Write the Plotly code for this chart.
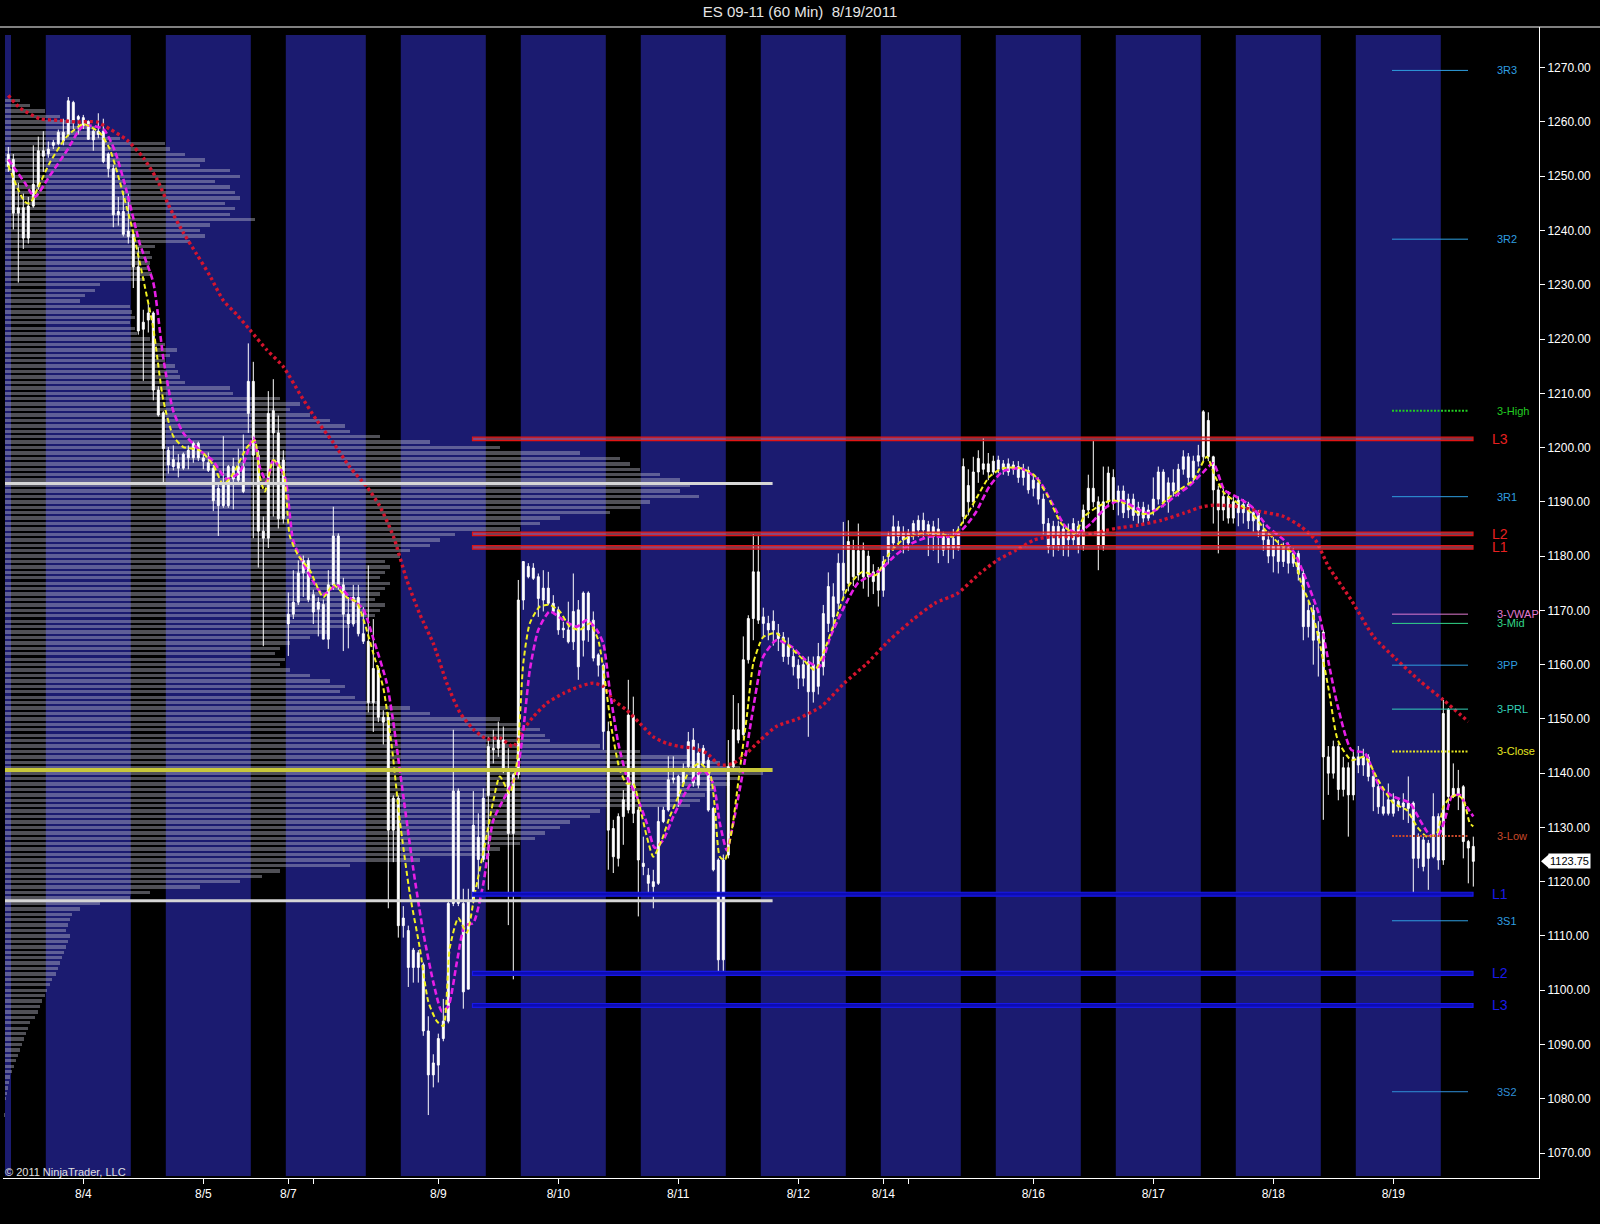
import plotly.graph_objects as go

# ---------------- DATA ----------------
# 60-minute ES 09-11 bars, indexed 0..293 (left to right)
bar_open = [
1254.0,1253.1,1243.2,1244.2,1238.6,1244.5,1248.1,1254.7,1254.1,1255.7,
1256.0,1256.5,1257.7,1263.6,1260.5,1260.8,1260.1,1256.7,1258.3,1258.3,
1254.1,1251.4,1242.9,1243.5,1239.9,1239.3,1233.3,1221.8,1223.5,1224.8,
1210.6,1206.4,1199.5,1196.5,1197.2,1196.2,1198.1,1198.1,1200.8,1198.1,
1197.2,1196.2,1189.3,1193.5,1189.3,1196.5,1194.0,1196.5,1206.3,1212.2,
1198.6,1184.6,1183.3,1206.8,1202.7,1186.9,1169.3,1169.3,1171.5,1176.9,
1179.2,1172.9,1170.2,1171.1,1164.7,1174.7,1183.7,1174.7,1169.3,1167.5,
1172.4,1165.7,1164.3,1153.0,1159.3,1150.3,1150.3,1129.5,1135.4,1111.9,
1111.0,1104.2,1106.9,1104.7,1092.5,1084.4,1086.2,1091.1,1094.3,1116.0,
1136.7,1116.0,1100.2,1116.4,1128.2,1124.1,1135.9,1144.6,1144.6,1146.1,
1140.3,1128.9,1139.7,1171.9,1178.1,1175.9,1176.2,1171.9,1174.1,1171.3,
1170.1,1166.4,1166.4,1164.2,1170.1,1164.5,1173.2,1168.2,1161.8,1159.9,
1147.7,1129.8,1124.3,1132.0,1133.2,1150.7,1133.2,1123.4,1121.2,1120.0,
1119.7,1131.1,1133.2,1138.8,1139.4,1138.2,1141.2,1146.1,1137.8,1141.8,
1142.4,1133.5,1124.0,1105.6,1124.9,1141.2,1148.0,1147.1,1160.9,1168.5,
1177.1,1168.8,1167.6,1166.4,1165.8,1165.1,1161.5,1161.5,1159.9,1157.5,
1160.5,1155.0,1156.0,1159.6,1167.6,1172.5,1171.3,1178.7,1175.0,1181.1,
1176.5,1181.0,1176.2,1177.1,1177.4,1173.7,1179.9,1182.4,1185.4,1183.0,
1184.2,1184.2,1184.8,1186.6,1184.2,1185.4,1183.6,1183.6,1181.5,1183.3,
1181.5,1187.3,1193.0,1190.0,1195.5,1196.0,1197.0,1195.5,1197.7,1196.0,
1197.0,1196.0,1196.5,1194.5,1195.8,1192.5,1193.5,1190.5,1186.0,1182.0,
1185.5,1182.0,1184.5,1183.0,1185.5,1182.0,1188.5,1192.5,1190.0,1182.0,
1190.0,1194.5,1190.0,1192.0,1188.5,1190.5,1187.5,1189.0,1187.0,1188.5,
1190.5,1195.5,1190.0,1193.5,1192.0,1196.0,1198.3,1194.5,1197.5,1198.3,
1205.0,1198.3,1192.2,1188.5,1191.0,1187.0,1190.3,1188.0,1189.5,1186.5,
1188.0,1184.8,1183.0,1180.0,1182.0,1179.0,1181.5,1178.7,1180.5,1176.8,
1167.0,1170.0,1164.5,1166.0,1143.0,1140.0,1144.9,1137.0,1141.0,1136.0,
1143.0,1141.5,1143.0,1139.4,1137.5,1133.8,1132.6,1135.1,1134.8,1133.8,
1134.5,1134.5,1124.3,1127.7,1124.3,1124.6,1132.0,1124.0,1151.7,1135.7,
1137.2,1137.5,1127.4,1126.5]
bar_high = [
1255.4,1254.1,1248.8,1246.8,1246.2,1255.7,1257.3,1258.3,1256.4,1256.7,
1258.6,1260.6,1264.6,1263.9,1261.3,1261.3,1260.3,1258.7,1261.6,1260.6,
1254.4,1252.1,1246.2,1247.2,1246.8,1239.6,1236.9,1225.4,1226.4,1225.1,
1211.3,1206.7,1200.1,1200.4,1198.8,1199.1,1200.4,1201.1,1201.1,1198.8,
1199.1,1196.8,1193.5,1202.1,1196.8,1198.1,1199.8,1202.4,1219.2,1215.8,
1199.5,1187.3,1210.4,1212.6,1205.9,1199.5,1173.3,1177.4,1179.2,1180.1,
1179.7,1173.8,1172.4,1172.0,1177.4,1189.1,1184.2,1176.0,1172.4,1174.7,
1174.7,1170.6,1178.3,1168.4,1159.8,1151.6,1151.2,1135.9,1135.9,1115.5,
1111.9,1107.8,1107.4,1105.1,1095.2,1088.2,1092.0,1098.4,1116.4,1148.0,
1137.2,1118.7,1118.7,1136.7,1132.6,1137.2,1146.7,1148.0,1149.5,1148.6,
1144.6,1140.0,1175.6,1179.0,1178.7,1178.7,1176.8,1177.4,1177.1,1172.8,
1170.7,1167.9,1171.6,1176.8,1171.9,1173.5,1173.5,1169.8,1162.1,1160.2,
1149.5,1131.4,1132.6,1136.9,1157.2,1154.1,1133.8,1128.3,1122.5,1122.2,
1133.8,1133.8,1143.1,1143.1,1139.7,1141.8,1147.6,1148.3,1145.5,1145.2,
1143.0,1133.8,1124.3,1125.0,1146.1,1154.4,1152.9,1165.2,1169.1,1184.0,
1183.9,1170.5,1169.0,1170.0,1167.5,1166.0,1165.0,1163.0,1161.0,1161.5,
1161.5,1161.5,1164.0,1171.0,1177.0,1175.0,1180.5,1186.3,1186.6,1183.0,
1186.0,1182.5,1181.0,1178.5,1178.0,1180.0,1184.5,1187.5,1186.5,1185.5,
1185.0,1186.6,1187.5,1188.0,1186.5,1186.5,1187.0,1184.5,1184.0,1185.0,
1185.5,1198.0,1196.0,1198.3,1199.5,1201.7,1199.0,1198.5,1198.5,1197.7,
1198.0,1197.5,1197.5,1197.0,1196.5,1195.0,1194.5,1191.5,1187.0,1186.5,
1186.5,1186.0,1186.0,1187.0,1186.5,1189.5,1195.0,1201.4,1191.0,1196.5,
1196.5,1196.0,1193.0,1193.0,1191.5,1191.5,1190.0,1190.0,1189.5,1194.5,
1196.5,1196.0,1194.5,1196.0,1197.0,1199.5,1199.0,1198.5,1200.5,1206.9,
1206.5,1198.5,1193.0,1192.5,1192.0,1191.0,1191.0,1190.5,1190.0,1189.0,
1188.5,1186.0,1184.5,1183.5,1183.0,1182.5,1182.5,1181.5,1181.0,1177.5,
1172.0,1171.0,1168.0,1166.5,1145.0,1146.0,1145.5,1143.0,1142.0,1144.0,
1145.0,1144.5,1143.5,1140.5,1138.0,1137.0,1138.1,1136.3,1135.5,1136.3,
1139.4,1134.8,1128.9,1128.3,1127.7,1136.3,1132.6,1153.5,1152.0,1141.8,
1140.6,1137.8,1127.7,1128.3]
bar_low = [
1250.8,1240.2,1230.4,1236.6,1237.6,1244.2,1247.5,1250.8,1253.4,1255.0,
1255.7,1255.7,1257.3,1258.7,1257.7,1258.7,1256.7,1254.7,1257.0,1252.4,
1249.8,1240.6,1240.9,1238.9,1237.6,1229.4,1220.8,1212.3,1221.2,1208.7,
1205.7,1193.5,1195.2,1195.8,1194.5,1195.9,1196.0,1197.2,1197.5,1196.0,
1195.5,1188.3,1183.7,1188.9,1188.9,1188.6,1193.5,1191.6,1202.7,1183.3,
1177.9,1163.4,1181.5,1187.3,1185.1,1186.0,1161.6,1168.4,1171.0,1172.5,
1171.5,1167.5,1165.2,1164.7,1162.9,1173.8,1173.8,1162.5,1163.0,1167.0,
1165.2,1163.8,1151.2,1147.6,1149.4,1145.3,1115.1,1123.6,1109.7,1109.7,
1100.6,1101.4,1101.4,1091.6,1077.0,1082.1,1083.0,1090.6,1093.9,1115.5,
1115.5,1096.6,1100.2,1116.0,1118.7,1123.6,1118.5,1141.8,1143.0,1140.0,
1112.0,1102.0,1139.0,1170.1,1175.9,1175.6,1168.8,1169.8,1171.0,1169.5,
1165.5,1164.9,1163.9,1162.7,1157.2,1161.5,1164.2,1160.6,1157.8,1144.3,
1122.2,1121.6,1122.8,1126.8,1132.6,1130.8,1113.6,1121.2,1117.5,1115.1,
1119.4,1130.8,1132.9,1138.1,1133.8,1137.5,1140.6,1137.5,1137.2,1141.5,
1132.9,1121.9,1103.2,1103.2,1124.3,1140.6,1145.5,1146.4,1160.2,1164.5,
1167.5,1165.0,1164.5,1163.5,1162.5,1160.5,1160.0,1158.0,1155.5,1156.0,
1146.7,1153.0,1154.5,1158.0,1166.0,1166.5,1170.0,1172.0,1173.5,1174.5,
1175.5,1174.0,1172.5,1173.0,1170.7,1172.5,1178.5,1181.0,1182.0,1180.5,
1181.0,1183.0,1183.5,1183.0,1180.0,1181.0,1178.7,1180.0,1178.7,1179.5,
1181.0,1186.0,1187.5,1189.0,1193.5,1195.0,1194.0,1195.0,1195.3,1195.0,
1194.8,1195.0,1193.5,1193.0,1191.5,1191.0,1189.5,1184.0,1180.5,1179.9,
1181.0,1180.0,1179.9,1182.0,1180.5,1181.0,1187.0,1189.0,1177.4,1181.0,
1189.0,1188.5,1187.5,1187.0,1187.0,1186.5,1186.0,1186.0,1186.5,1187.5,
1189.5,1189.0,1188.0,1191.0,1191.0,1195.0,1193.0,1193.5,1196.5,1197.5,
1197.5,1186.0,1180.5,1186.5,1186.0,1186.0,1185.5,1186.0,1185.0,1184.5,
1183.5,1181.0,1178.7,1177.0,1176.8,1178.0,1176.8,1178.0,1175.5,1164.5,
1165.0,1160.0,1157.8,1131.4,1136.0,1139.0,1135.0,1135.7,1128.3,1135.0,
1140.0,1139.5,1138.5,1133.0,1132.5,1132.2,1132.2,1132.0,1133.0,1131.4,
1130.8,1117.9,1122.5,1121.9,1118.5,1124.3,1122.2,1123.1,1133.2,1135.4,
1133.2,1124.3,1119.7,1119.1]
bar_close = [
1251.8,1243.2,1244.2,1238.6,1244.5,1248.5,1254.7,1253.7,1255.0,1256.2,
1258.1,1258.1,1263.9,1260.3,1261.0,1259.3,1256.8,1258.3,1257.7,1252.7,
1251.4,1242.9,1243.5,1239.3,1238.9,1233.3,1221.5,1223.1,1224.8,1210.6,
1206.0,1199.8,1196.8,1197.8,1196.2,1198.8,1199.5,1200.8,1198.1,1197.5,
1195.8,1190.2,1192.5,1189.3,1196.5,1194.2,1196.5,1191.9,1212.2,1198.6,
1184.6,1183.3,1206.3,1202.7,1186.9,1197.7,1167.5,1171.5,1176.9,1179.2,
1172.0,1169.7,1171.5,1164.7,1174.7,1183.7,1174.7,1169.3,1167.5,1172.4,
1165.7,1164.3,1153.0,1159.3,1150.3,1149.4,1129.5,1135.4,1111.9,1113.3,
1104.2,1107.4,1104.2,1092.5,1084.4,1086.6,1091.1,1094.3,1116.0,1136.7,
1116.0,1099.7,1116.4,1130.4,1124.1,1135.4,1144.9,1144.3,1146.1,1140.6,
1128.9,1139.7,1171.9,1179.0,1176.2,1177.8,1172.2,1174.1,1171.3,1169.8,
1166.4,1166.7,1164.2,1169.8,1159.6,1173.2,1166.4,1161.2,1159.9,1147.7,
1129.5,1124.6,1132.0,1135.1,1150.7,1132.6,1124.0,1122.8,1119.7,1119.1,
1131.1,1133.2,1138.8,1139.1,1135.7,1140.9,1145.8,1138.2,1143.7,1144.6,
1133.2,1122.2,1105.6,1124.0,1141.2,1148.0,1146.1,1160.9,1168.5,1177.1,
1168.2,1167.6,1166.4,1168.0,1164.8,1161.5,1163.5,1159.6,1157.5,1160.0,
1155.0,1160.0,1161.5,1169.4,1174.4,1168.8,1178.7,1173.7,1182.7,1176.2,
1181.0,1176.2,1180.0,1175.3,1173.7,1179.0,1183.6,1185.4,1183.6,1184.2,
1182.4,1186.0,1186.6,1184.8,1185.8,1183.6,1185.0,1181.1,1183.3,1181.5,
1184.2,1196.5,1190.0,1195.5,1198.0,1197.0,1195.5,1197.5,1196.0,1197.0,
1195.5,1196.8,1194.5,1195.8,1192.2,1194.0,1190.5,1186.0,1181.7,1185.5,
1182.0,1185.0,1183.0,1186.0,1182.0,1188.5,1192.5,1190.0,1182.0,1190.0,
1195.3,1190.0,1192.0,1188.0,1190.5,1187.5,1189.0,1187.0,1188.5,1190.5,
1195.5,1190.0,1193.5,1192.0,1196.0,1198.3,1194.5,1197.5,1198.5,1206.6,
1198.3,1192.2,1188.5,1191.0,1187.0,1190.0,1188.0,1189.5,1186.5,1188.0,
1184.8,1183.0,1180.0,1182.0,1179.0,1181.5,1178.7,1180.5,1176.8,1167.0,
1170.0,1164.5,1166.0,1143.0,1140.0,1144.9,1137.0,1141.0,1136.0,1143.0,
1141.5,1143.0,1139.4,1137.5,1133.8,1132.6,1135.1,1132.6,1133.8,1134.5,
1133.5,1124.3,1128.3,1122.8,1127.1,1132.0,1124.0,1151.0,1135.7,1137.2,
1136.0,1127.4,1126.2,1123.75]

# fast moving average (yellow dashed): bar position, price
fast_ma_x = [0,2,3.3,4.3,6,8.3,11.7,15,18.3,20.3,22.3,25,27,29,31,33,35,38.3,41,43,45,47.7,49.3,50.3,51.3,53,55,56.3,58,60.3,63,65,67.7,69.7,71.3,73,75,76.7,78.3,80.3,82.3,84,85.7,87,88.3,90,91.7,93.3,95.3,97,98.3,100.3,101.7,103,104.3,106.3,108.3,110.3,112.3,114.3,116.3,118,119.3,120.7,122.3,123.7,125,126.3,127.7,129,130.7,132.3,134.3,136.3,138.3,140.3,141.3,142.3,143.3,144.7,146.3,147.7,149,150.3,151,153.6,156.3,159,161.3,163,165.4,168,170.8,173.5,176.2,178.9,182.6,186.2,188.9,190.7,193.4,196.2,198.9,202.5,205.2,207.9,210.6,213.3,215.2,217.9,220.6,223.3,226,228.7,231.5,234.2,237,239.7,241.4,243.2,246,248.7,251.4,254.1,256.8,258.6,260.5,262.3,264.1,265.9,268.6,271.3,274,277,279.7,281.7,283.7,285.7,287,288.3,289.7,291,292.3,293]
fast_ma_y = [1252,1247.5,1245.3,1245,1248,1252.5,1257.3,1259.6,1258,1255,1249,1239.6,1231,1222,1208.7,1202.1,1200.1,1199.5,1196.8,1193.2,1195.2,1200,1201.3,1194.6,1191.9,1197.7,1195.5,1183.7,1180.1,1177.4,1172.4,1174.7,1172.4,1171.5,1167.5,1162.1,1155.7,1144.9,1131.3,1117.8,1107.8,1097.9,1094.3,1093.4,1107.8,1113.3,1110.6,1117.8,1126.8,1134.9,1139.4,1136.3,1141.8,1160.3,1167.6,1170.7,1171,1169.8,1167,1166.4,1167.6,1164.5,1157.2,1148,1140.6,1138.1,1138.1,1133.8,1128.3,1124.6,1127.7,1132,1136.3,1140.6,1141.8,1140,1133.8,1124.6,1124,1129.5,1140.6,1150.4,1160.3,1163.9,1165.1,1165.8,1163.3,1160.9,1159,1162.1,1168.2,1174.4,1177.1,1176.5,1180.5,1183,1184.2,1184.2,1183.6,1186,1190.3,1194.6,1196.2,1196.2,1194.9,1191,1186,1184.2,1187.3,1189.1,1190.3,1189.7,1187.9,1187.9,1190.3,1192.2,1194,1198.3,1194.6,1191.6,1189.7,1187.9,1184.8,1182.4,1180.5,1175,1170.7,1163.9,1155.3,1146.1,1142.4,1143,1138.7,1134.5,1133.2,1130.2,1128.3,1128.9,1133.8,1135.4,1136,1135.1,1130.8,1130.2]

# slower moving average (magenta dashed)
mid_ma_x = [0,3.3,5.3,8.3,11.7,15,19,21.3,23.6,26.3,29,31,33,35,38.3,41,43.7,46.3,49,50.3,51.7,53,55.3,57,59.7,63,65.7,68.3,71,73,75.7,77,79,81,83,85,86.7,88,89.7,91.3,93,95,97,99.7,101.7,103,104.3,106,108.3,111,113.7,115.7,117.7,119,120.3,122,123.7,125.7,127.7,129.3,131,133,135,137,139,141,142.3,143.7,145,147,148.7,150.3,151,153.6,156.7,159.4,162.2,164.4,167.2,169.9,172.6,174.4,177.1,180.8,184.4,188,190.7,193.4,196.2,198.9,202.5,206.1,208.8,211.5,213.8,216.5,219.7,222.4,225.1,227.9,230.6,233.3,236,238.8,241,243.2,245.5,248.7,251.9,255.1,257.3,259.6,262.3,264.1,265.9,268.6,271.3,274.3,277,280.3,282.3,284.3,286,287.3,288.7,290.3,291.7,293]
mid_ma_y = [1253.1,1248.8,1246.2,1250.1,1254.7,1259.3,1258.7,1254.7,1247.5,1237.6,1230.4,1216.5,1206.7,1202.7,1199.5,1197.5,1194.2,1195.5,1201.8,1196.4,1193.7,1197.7,1194.6,1182.8,1177.4,1172.9,1174.7,1172.4,1170.2,1164.8,1156.6,1149.4,1135.8,1122.3,1110.6,1101.5,1096.1,1097,1105.1,1111.9,1112.4,1119.6,1131.3,1136.3,1140,1148,1159,1166.4,1169.8,1168.2,1167,1168.2,1166.4,1163.9,1155.3,1145.5,1139.4,1135.7,1130.8,1126.2,1127.7,1132,1135.7,1138.8,1140.6,1138.1,1130.8,1125.8,1130.8,1140.6,1150.4,1159,1161.5,1164.5,1163.3,1160.9,1159.6,1165.1,1170.7,1175,1176.5,1177.4,1179.9,1182.4,1183.6,1183.6,1184.8,1187.9,1192.8,1195.6,1196.2,1194,1189.7,1185.4,1184.2,1186,1189.1,1190.3,1189.1,1187.9,1189.1,1191,1192.8,1195.3,1197.1,1192.2,1191,1189.1,1185.4,1183,1180.5,1175.6,1168.8,1160.2,1152.3,1144.3,1143.7,1137.5,1135.7,1134.5,1131.4,1128.6,1128.6,1131.4,1135.7,1136,1133.8,1132]

# slow moving average (red dotted)
slow_ma_x = [0,2.3,6.3,10.3,13.7,17.7,20.3,23.7,27,29.7,32.3,35,37.7,40.3,43,45.7,48.3,51.7,55,58.3,61.7,65,68.3,71.7,74.3,77,79.7,82.3,85,87.7,90.3,93,95.7,98.3,101,103,105,107.7,111,114.3,117,119,121,123.7,126.3,129,131.7,134.3,137,139.7,142.3,145,147.7,150.3,153.6,158.1,162.6,167.2,171.7,176.2,180.8,185.3,189.8,194.3,197.9,201.6,205.2,208.8,212.4,216.9,221.5,226,230.6,235.1,238.8,241.4,246,250.5,255.1,258.6,261.4,264.1,268.6,273.1,277.6,282.3,287,292]
slow_ma_y = [1264.9,1262.6,1260.6,1260.3,1260,1260,1258.7,1256.7,1253.4,1249.5,1244.2,1239.6,1235.6,1231.7,1227.1,1224.5,1221.7,1218,1214.9,1209.9,1205,1200.9,1196.4,1192.8,1189.2,1183.7,1175.6,1169.3,1163.9,1156.6,1151.2,1148.1,1146.3,1146.5,1144.9,1148,1150.4,1152.9,1154.7,1156,1156.6,1156,1153.5,1151.6,1149.2,1146.7,1145.5,1144.9,1144.6,1143.7,1141.5,1141.8,1143.7,1146,1148.6,1150.1,1152.3,1156.6,1160.2,1164.5,1168.2,1171.3,1173.1,1176.8,1179.3,1181.1,1183,1183.6,1183.6,1184.2,1185.1,1185.7,1186.6,1187.9,1189.1,1189.4,1189.1,1188.2,1187.3,1185.4,1183,1178,1171.9,1165.1,1161,1157,1153.5,1149.5]

# volume profile: price level and relative volume (read as bar length)
profile_price = list(range(1264, 1076, -1))
profile_volume = [
20,30,45,60,75,95,100,120,165,170,185,205,200,230,240,215,230,235,240,225,
235,230,255,210,200,205,190,155,150,152,150,148,152,145,100,95,85,80,130,132,
135,130,135,137,150,165,177,170,165,175,178,180,185,230,233,280,300,290,310,330,
345,350,380,430,500,580,620,630,640,660,680,690,680,699,650,640,610,560,540,520,
455,440,430,410,400,385,390,385,380,390,385,380,375,385,380,375,360,350,330,310,
290,280,275,285,280,290,310,330,345,340,355,380,410,430,500,520,540,545,550,600,
640,690,720,740,763,740,730,715,705,700,690,600,590,570,560,545,535,520,500,490,
420,350,280,262,240,200,150,130,100,80,72,70,68,66,70,68,66,64,62,60,
58,56,52,50,47,45,42,40,38,35,30,28,26,24,22,20,18,16,14,12,
10,9,8,7,6,5,5,4]
profile_levels = {"VAH": 1193.4, "POC": 1140.6, "VAL": 1116.5}

# session bands (bar positions where each highlighted session starts / ends)
session_start = [-0.66, 7.5, 31.5, 55.5, 78.5, 102.5, 126.5, 150.5, 174.5, 197.5, 221.5, 245.5, 269.5]
session_end = [0.54, 24.5, 48.5, 71.5, 95.5, 119.5, 143.5, 167.5, 190.5, 214.5, 238.5, 262.5, 286.5]

# date ticks
date_tick_pos = [15, 39, 56, 61, 86, 110, 134, 158, 175, 180, 205, 229, 253, 277]
date_tick_text = ["8/4", "8/5", "8/7", "", "8/9", "8/10", "8/11", "8/12", "8/14", "", "8/16", "8/17", "8/18", "8/19"]

# support / resistance zones
res_names = ["L3", "L2", "L1"]
res_levels = [1201.6, 1184.1, 1181.6]
sup_names = ["L1", "L2", "L3"]
sup_levels = [1117.7, 1103.1, 1097.2]

# pivot levels
pivot_names = ["3R3", "3R2", "3-High", "3R1", "3-VWAP", "3-Mid", "3PP", "3-PRL", "3-Close", "3-Low", "3S1", "3S2"]
pivot_values = [1269.5, 1238.4, 1206.8, 1190.95, 1169.3, 1167.6, 1159.9, 1151.8, 1144.0, 1128.4, 1112.8, 1081.3]

last_price = 1123.75

# ---------------- STYLE / LAYOUT ----------------
W, H = 1600, 1224
ML, MR, MT, MB = 3, 61, 27, 46
PX_PER_BAR = 5.0
X0_PX = 8.3                  # pixel of bar 0
plot_w = W - ML - MR
plot_h = H - MT - MB
x_min = (ML - X0_PX) / PX_PER_BAR
x_max = (W - MR - X0_PX) / PX_PER_BAR
y_min, y_max = 1065.4, 1277.5

def yfrac(px):
    return (H - MB - px) / plot_h

band_color = "#1b1b70"
font_family = "Liberation Sans, Arial, sans-serif"
pivot_colors = {"3R3": "#2f9fe0", "3R2": "#2f9fe0", "3-High": "#22cc22", "3R1": "#2f9fe0",
                "3-VWAP": "#e07ad0", "3-Mid": "#33d68a", "3PP": "#2f9fe0", "3-PRL": "#33d0b8",
                "3-Close": "#e6e620", "3-Low": "#c8482a", "3S1": "#2f9fe0", "3S2": "#2f8fd8"}
pivot_dotted = {"3-High", "3-Close", "3-Low"}

fig = go.Figure()

profile_base = (5 - X0_PX) / PX_PER_BAR
fig.add_trace(go.Bar(
    orientation="h", y=profile_price,
    x=[(v - 5) / PX_PER_BAR for v in profile_volume],
    base=profile_base, width=0.62,
    marker=dict(color="rgba(190,190,205,0.42)", line=dict(width=0)),
    hoverinfo="skip", showlegend=False))

hi = [max(h, o, c) for h, o, c in zip(bar_high, bar_open, bar_close)]
lo = [min(l, o, c) for l, o, c in zip(bar_low, bar_open, bar_close)]
fig.add_trace(go.Candlestick(
    x=list(range(len(bar_open))), open=bar_open, high=hi, low=lo, close=bar_close,
    increasing=dict(line=dict(color="white", width=1), fillcolor="white"),
    decreasing=dict(line=dict(color="white", width=1), fillcolor="white"),
    whiskerwidth=0, hoverinfo="skip", showlegend=False))

fig.add_trace(go.Scatter(x=slow_ma_x, y=slow_ma_y, mode="lines",
                         line=dict(color="#d4142e", width=3.4, dash="3px,3px", shape="spline", smoothing=0.6),
                         hoverinfo="skip", showlegend=False))
fig.add_trace(go.Scatter(x=mid_ma_x, y=mid_ma_y, mode="lines",
                         line=dict(color="#e61ee6", width=2.6, dash="6px,3px", shape="spline", smoothing=0.6),
                         hoverinfo="skip", showlegend=False))
fig.add_trace(go.Scatter(x=fast_ma_x, y=fast_ma_y, mode="lines",
                         line=dict(color="#f2f222", width=2.0, dash="5px,3px", shape="spline", smoothing=0.6),
                         hoverinfo="skip", showlegend=False))

shapes = []
for s, e in zip(session_start, session_end):
    shapes.append(dict(type="rect", xref="x", yref="paper", x0=s, x1=e,
                       y0=yfrac(1176), y1=yfrac(35), fillcolor=band_color,
                       line=dict(width=0), layer="below"))
# top border
shapes.append(dict(type="line", xref="paper", yref="paper", x0=-ML / plot_w, x1=(W - ML) / plot_w,
                   y0=1, y1=1, line=dict(color="white", width=1)))
# profile value area / POC
prof_end = (772.6 - X0_PX) / PX_PER_BAR
for name, lvl in profile_levels.items():
    col = "#c8c83a" if name == "POC" else "#d6d6d6"
    shapes.append(dict(type="line", xref="x", yref="y", x0=profile_base, x1=prof_end, y0=lvl, y1=lvl,
                       line=dict(color=col, width=4 if name == "POC" else 3), layer="above"))
zone_x0 = (472.5 - X0_PX) / PX_PER_BAR
zone_x1 = (1473 - X0_PX) / PX_PER_BAR
for lvl in res_levels:
    shapes.append(dict(type="rect", xref="x", yref="y", x0=zone_x0, x1=zone_x1, y0=lvl - 0.32, y1=lvl + 0.32,
                       line=dict(color="#e01414", width=1.2), fillcolor="rgba(225,110,140,0.55)", layer="above"))
for lvl in sup_levels:
    shapes.append(dict(type="rect", xref="x", yref="y", x0=zone_x0, x1=zone_x1, y0=lvl - 0.36, y1=lvl + 0.36,
                       line=dict(color="#1818e6", width=1.2), fillcolor="#0c0cb4", layer="above"))
piv_x0 = (1392 - X0_PX) / PX_PER_BAR
piv_x1 = (1468 - X0_PX) / PX_PER_BAR
for nm, v in zip(pivot_names, pivot_values):
    dotted = nm in pivot_dotted
    shapes.append(dict(type="line", xref="x", yref="y", x0=piv_x0, x1=piv_x1, y0=v, y1=v,
                       line=dict(color=pivot_colors[nm], width=2 if dotted else 1,
                                 dash="2px,1.5px" if dotted else "solid"), layer="above"))
# price marker arrow
shapes.append(dict(type="path", xref="paper", yref="y", xsizemode="pixel", ysizemode="pixel",
                   xanchor=1, yanchor=last_price, path="M 2,0 L 10,7 L 10,-7 Z",
                   fillcolor="white", line=dict(width=0)))

annotations = []
lab_x_lvl = (1490 - X0_PX) / PX_PER_BAR
lab_x_piv = (1495 - X0_PX) / PX_PER_BAR
for nm, v in zip(res_names, res_levels):
    annotations.append(dict(x=lab_x_lvl, y=v, xref="x", yref="y", text=nm, showarrow=False,
                            xanchor="left", yanchor="middle", font=dict(size=14, color="#e82020", family=font_family)))
for nm, v in zip(sup_names, sup_levels):
    annotations.append(dict(x=lab_x_lvl, y=v, xref="x", yref="y", text=nm, showarrow=False,
                            xanchor="left", yanchor="middle", font=dict(size=14, color="#1a1ae8", family=font_family)))
for nm, v in zip(pivot_names, pivot_values):
    annotations.append(dict(x=lab_x_piv, y=v, xref="x", yref="y", text=nm, showarrow=False,
                            xanchor="left", yanchor="middle", font=dict(size=11, color=pivot_colors[nm], family=font_family)))
annotations.append(dict(x=1, y=last_price, xref="paper", yref="y", text="1123.75", showarrow=False,
                        xanchor="left", yanchor="middle", xshift=9, bgcolor="white", borderpad=1,
                        font=dict(size=11, color="black", family=font_family)))
annotations.append(dict(x=0, y=yfrac(1172), xref="paper", yref="paper", text="© 2011 NinjaTrader, LLC",
                        showarrow=False, xanchor="left", yanchor="middle",
                        font=dict(size=11, color="#e0e0e0", family=font_family)))

fig.update_layout(
    width=W, height=H, autosize=False,
    paper_bgcolor="black", plot_bgcolor="black",
    margin=dict(l=ML, r=MR, t=MT, b=MB, pad=0),
    boxgap=0.45, showlegend=False, bargap=0,
    font=dict(family=font_family, color="white"),
    title=dict(text="ES 09-11 (60 Min)  8/19/2011", x=0.5, xref="container", xanchor="center",
               y=1 - 12 / H, yref="container", yanchor="middle",
               font=dict(size=15, color="#e6e6e6", family=font_family)),
    xaxis=dict(range=[x_min, x_max], showgrid=False, zeroline=False, showline=True, linecolor="white",
               linewidth=1, ticks="outside", ticklen=5, tickcolor="white", tickvals=date_tick_pos,
               ticktext=date_tick_text, tickfont=dict(size=12, color="white"), rangeslider=dict(visible=False),
               fixedrange=True),
    yaxis=dict(range=[y_min, y_max], side="right", showgrid=False, zeroline=False, showline=True,
               linecolor="white", linewidth=1, ticks="outside", ticklen=5, tickcolor="white",
               tickvals=list(range(1070, 1271, 10)), tickformat=".2f",
               tickfont=dict(size=12, color="white"), fixedrange=True),
    shapes=shapes, annotations=annotations,
)

fig.write_html("out.html", config={"displayModeBar": False},
               post_script="document.body.style.margin='0';document.body.style.background='black';")
